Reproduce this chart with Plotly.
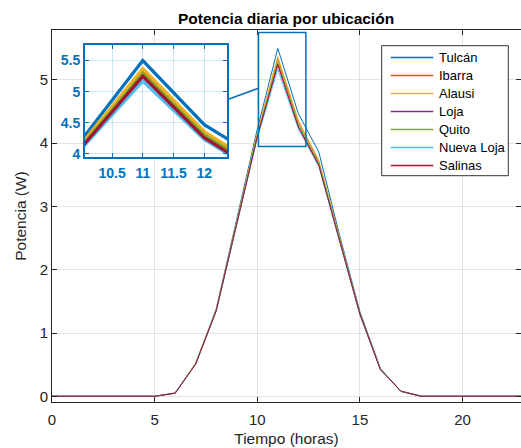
import plotly.graph_objects as go

# ---------------- data ----------------
hours = list(range(24))
series_names = ["Tulcán", "Ibarra", "Alausi", "Loja", "Quito", "Nueva Loja", "Salinas"]
series_colors = ["#0072BD", "#D95319", "#EDB120", "#7E2F8E", "#77AC30", "#4DBEEE", "#A2142F"]

tulcan     = [0, 0, 0, 0, 0, 0, 0.05, 0.52, 1.38, 2.80, 4.22, 5.50, 4.47, 3.86, 2.56, 1.34, 0.44, 0.08, 0, 0, 0, 0, 0, 0]
ibarra     = [0, 0, 0, 0, 0, 0, 0.05, 0.52, 1.36, 2.76, 4.14, 5.34, 4.34, 3.71, 2.51, 1.31, 0.43, 0.08, 0, 0, 0, 0, 0, 0]
alausi     = [0, 0, 0, 0, 0, 0, 0.05, 0.52, 1.37, 2.77, 4.16, 5.37, 4.36, 3.73, 2.52, 1.31, 0.43, 0.08, 0, 0, 0, 0, 0, 0]
loja       = [0, 0, 0, 0, 0, 0, 0.05, 0.51, 1.35, 2.74, 4.10, 5.24, 4.27, 3.66, 2.49, 1.30, 0.43, 0.08, 0, 0, 0, 0, 0, 0]
quito      = [0, 0, 0, 0, 0, 0, 0.05, 0.52, 1.36, 2.75, 4.12, 5.29, 4.30, 3.69, 2.50, 1.30, 0.43, 0.08, 0, 0, 0, 0, 0, 0]
nueva_loja = [0, 0, 0, 0, 0, 0, 0.05, 0.51, 1.35, 2.73, 4.08, 5.17, 4.23, 3.63, 2.48, 1.29, 0.42, 0.08, 0, 0, 0, 0, 0, 0]
salinas    = [0, 0, 0, 0, 0, 0, 0.05, 0.51, 1.35, 2.74, 4.10, 5.25, 4.26, 3.65, 2.49, 1.30, 0.42, 0.08, 0, 0, 0, 0, 0, 0]
series_values = [tulcan, ibarra, alausi, loja, quito, nueva_loja, salinas]

x_ticks = [0, 5, 10, 15, 20]
y_ticks = [0, 1, 2, 3, 4, 5]
inset_x_ticks = [10.5, 11, 11.5, 12]
inset_y_ticks = [4, 4.5, 5, 5.5]

# ---------------- layout constants ----------------
FONT = "Liberation Sans, Arial, Helvetica, sans-serif"
TXT = "#262626"
BLUE = "#0072BD"
W, H = 521, 448
M_L, M_R, M_T, M_B = 52, 0, 30, 46
x_range = [0, 22.85]
y_range = [-0.09, 5.79]
inset_x_range = [10.06, 12.37]
inset_y_range = [3.95, 5.75]
inset_dom_x = [0.0704, 0.3731]
inset_dom_y = [0.6586, 0.9597]
link_y = 4.87

# legend box geometry (pixels)
LEG_BOX = (381.7, 45.7, 508.3, 175.7)
LEG_LINE_X = (390.7, 433.3)
LEG_TEXT_X = 437.0
LEG_ROW0 = 57.5
LEG_ROW_STEP = 18.0

def paper_x(px):
    return (px - M_L) / (W - M_L - M_R)

def paper_y(py):
    return (H - M_B - py) / (H - M_T - M_B)

def main_px(v):
    return (v - x_range[0]) / (x_range[1] - x_range[0])

def main_py(v):
    return (v - y_range[0]) / (y_range[1] - y_range[0])

fig = go.Figure()

for name, vals, col in zip(series_names, series_values, series_colors):
    fig.add_trace(go.Scatter(x=hours, y=vals, mode="lines", name=name, showlegend=False,
                             line=dict(color=col, width=1), xaxis="x", yaxis="y"))

for name, vals, col in zip(series_names, series_values, series_colors):
    fig.add_trace(go.Scatter(x=hours, y=vals, mode="lines", name=name, showlegend=False,
                             line=dict(color=col, width=3.2), xaxis="x2", yaxis="y2",
                             hoverinfo="skip"))

# zoom rectangle on main axes + connector line
fig.add_shape(type="rect", xref="x", yref="y",
              x0=inset_x_range[0], x1=inset_x_range[1], y0=inset_y_range[0], y1=inset_y_range[1],
              line=dict(color=BLUE, width=1.5), layer="above")

inset_link_py = inset_dom_y[0] + (link_y - inset_y_range[0]) / (inset_y_range[1] - inset_y_range[0]) * (inset_dom_y[1] - inset_dom_y[0])
fig.add_shape(type="line", xref="paper", yref="paper",
              x0=inset_dom_x[1], y0=inset_link_py,
              x1=main_px(inset_x_range[0]), y1=main_py(link_y),
              line=dict(color=BLUE, width=1.5), layer="above")

# legend (box, line samples, labels)
fig.add_shape(type="rect", xref="paper", yref="paper",
              x0=paper_x(LEG_BOX[0]), x1=paper_x(LEG_BOX[2]),
              y0=paper_y(LEG_BOX[3]), y1=paper_y(LEG_BOX[1]),
              line=dict(color="#333333", width=1), fillcolor="white", layer="above")
for i, (name, col) in enumerate(zip(series_names, series_colors)):
    row_y = LEG_ROW0 + i * LEG_ROW_STEP
    fig.add_shape(type="line", xref="paper", yref="paper",
                  x0=paper_x(LEG_LINE_X[0]), x1=paper_x(LEG_LINE_X[1]),
                  y0=paper_y(row_y), y1=paper_y(row_y),
                  line=dict(color=col, width=1.3), layer="above")
    fig.add_annotation(x=paper_x(LEG_TEXT_X), y=paper_y(row_y), xref="paper", yref="paper",
                       text=name, showarrow=False, xanchor="left", yanchor="middle",
                       font=dict(family=FONT, size=13, color="#000000"))

axis_common = dict(showline=True, linecolor=TXT, linewidth=1, mirror="allticks",
                   ticks="inside", ticklen=5, tickcolor=TXT, showgrid=True,
                   gridcolor="#e3e3e3", gridwidth=1, zeroline=False,
                   tickfont=dict(family=FONT, size=15, color=TXT))

fig.update_layout(
    width=W, height=H,
    margin=dict(l=M_L, r=M_R, t=M_T, b=M_B),
    paper_bgcolor="white", plot_bgcolor="white",
    font=dict(family=FONT, color=TXT),
    showlegend=False,
    title=dict(text="Potencia diaria por ubicación", x=0.549, xanchor="center",
               y=1 - 18.5 / H, yanchor="middle",
               font=dict(family=FONT, size=15.5, color="#000000", weight="bold")),
    xaxis=dict(range=x_range, tickvals=x_ticks, domain=[0, 1], anchor="y",
               ticklabelstandoff=4,
               title=dict(text="Tiempo (horas)", font=dict(family=FONT, size=15.5, color=TXT), standoff=6),
               **axis_common),
    yaxis=dict(range=y_range, tickvals=y_ticks, domain=[0, 1], anchor="x",
               title=dict(text="Potencia (W)", font=dict(family=FONT, size=15.5, color=TXT), standoff=9),
               **axis_common),
    xaxis2=dict(range=inset_x_range, tickvals=inset_x_ticks, domain=inset_dom_x, anchor="y2",
                showline=True, linecolor=BLUE, linewidth=2, mirror="allticks",
                ticks="inside", ticklen=4, tickcolor=BLUE, showgrid=True,
                gridcolor="rgba(0,114,189,0.18)", zeroline=False, ticklabelstandoff=2,
                tickfont=dict(family=FONT, size=14, color=BLUE, weight="bold")),
    yaxis2=dict(range=inset_y_range, tickvals=inset_y_ticks, domain=inset_dom_y, anchor="x2",
                showline=True, linecolor=BLUE, linewidth=2, mirror="allticks",
                ticks="inside", ticklen=4, tickcolor=BLUE, showgrid=True,
                gridcolor="rgba(0,114,189,0.18)", zeroline=False,
                tickfont=dict(family=FONT, size=14, color=BLUE, weight="bold")),
)

fig.write_html("out.html")
